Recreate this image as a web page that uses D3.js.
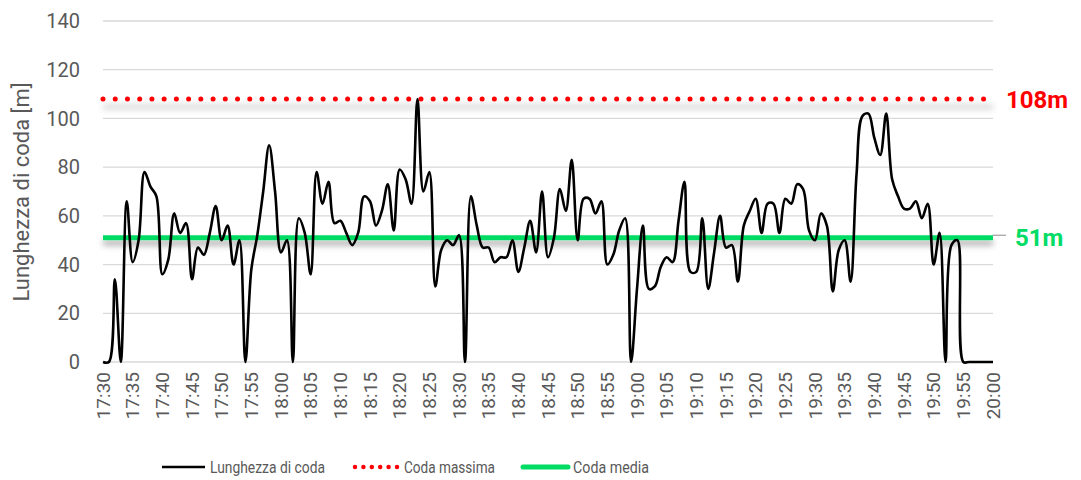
<!DOCTYPE html>
<html><head><meta charset="utf-8">
<script src="https://cdn.jsdelivr.net/npm/d3@7"></script>
<style>
html,body{margin:0;padding:0;background:#fff;}
svg{display:block;font-family:Roboto,"Liberation Sans",sans-serif;}
</style></head>
<body><svg id="chart" width="1081" height="480"></svg>
<script>
// ---- data ----
const startTime = "17:30";
const queueLength = [
 0,0,34,0,66,41,50,78,72,68,
 36,42,61,53,57,34,47,44,53,64,
 50,56,40,50,0,38,52,70,89,70,
 45,50,0,59,53,36,78,65,74,57,
 58,53,48,53,68,66,56,62,73,54,
 79,75,65,108,70,78,31,46,50,48,
 52,0,68,56,47,47,41,43,43,50,
 37,47,58,45,70,43,51,71,62,83,
 50,67,67,61,66,40,44,54,59,0,
 30,56,30,31,39,43,41,58,74,37,
 37,59,30,45,60,47,48,33,56,62,
 67,53,65,65,53,67,65,73,71,54,
 50,61,56,29,46,50,33,77,101,102,
 92,85,102,75,68,63,63,66,59,65,
 40,53,0,48,50,0,0,0,0,0,0
];
const maxQueue = 108;
const meanQueue = 51;
const xTickLabels = ["17:30","17:35","17:40","17:45","17:50","17:55","18:00","18:05","18:10","18:15","18:20","18:25","18:30","18:35","18:40","18:45","18:50","18:55","19:00","19:05","19:10","19:15","19:20","19:25","19:30","19:35","19:40","19:45","19:50","19:55","20:00"];
const yTickValues = [0,20,40,60,80,100,120,140];
const seriesNames = ["Lunghezza di coda","Coda massima","Coda media"];
const yTitle = "Lunghezza di coda [m]";

// ---- chart ----
const svg = d3.select("#chart");
const parse = d3.timeParse("%H:%M");
const t0 = parse(startTime);
const times = queueLength.map((v,i)=>d3.timeMinute.offset(t0,i));
const tickDates = xTickLabels.map(parse);

const L=103, R=993, T=21, B=362;
const x = d3.scaleTime().domain([tickDates[0], tickDates[tickDates.length-1]]).range([L,R]);
const y = d3.scaleLinear().domain([0,140]).range([B,T]);
const textCol = "#595959";

const defs = svg.append("defs");
const f = defs.append("filter").attr("id","shadow").attr("filterUnits","userSpaceOnUse")
  .attr("x",0).attr("y",0).attr("width",1081).attr("height",480);
f.append("feDropShadow").attr("dx",0).attr("dy",5).attr("stdDeviation",3.2).attr("flood-color","#000").attr("flood-opacity",0.35);
const f2 = defs.append("filter").attr("id","blur").attr("filterUnits","userSpaceOnUse")
  .attr("x",0).attr("y",0).attr("width",1081).attr("height",480);
f2.append("feGaussianBlur").attr("stdDeviation",3);

// gridlines
svg.append("g").selectAll("line").data(yTickValues).join("line")
  .attr("x1",L).attr("x2",R).attr("y1",d=>y(d)).attr("y2",d=>y(d))
  .attr("stroke","#d9d9d9").attr("stroke-width",1.3);

// y tick labels
svg.append("g").selectAll("text").data(yTickValues).join("text")
  .attr("x",80).attr("y",d=>y(d)).attr("dy","0.36em").attr("text-anchor","end")
  .attr("font-size",20).attr("fill",textCol).text(d=>d);

// y title
svg.append("text").attr("transform","translate(29,192) rotate(-90)")
  .attr("text-anchor","middle").attr("font-size",22).attr("fill",textCol).text(yTitle);

// x tick labels
svg.append("g").selectAll("text").data(xTickLabels).join("text")
  .attr("transform",(d,i)=>`translate(${x(tickDates[i])},372) rotate(-90)`)
  .attr("text-anchor","end").attr("dy","0.35em")
  .attr("font-size",19).attr("fill",textCol).text(d=>d);

// max line (soft continuous shadow + dots)
svg.append("line").attr("x1",L).attr("x2",R).attr("y1",y(maxQueue)+8).attr("y2",y(maxQueue)+8)
  .attr("stroke","#000").attr("stroke-opacity",0.16).attr("stroke-width",5).attr("filter","url(#blur)");
svg.append("line").attr("x1",L).attr("x2",R).attr("y1",y(maxQueue)).attr("y2",y(maxQueue))
  .attr("stroke","#ff0000").attr("stroke-width",5).attr("stroke-linecap","round")
  .attr("stroke-dasharray","0,12.23");

// mean line
svg.append("line").attr("x1",L).attr("x2",R).attr("y1",y(meanQueue)).attr("y2",y(meanQueue))
  .attr("stroke","#00dc64").attr("stroke-width",5).attr("filter","url(#shadow)");

// queue line (on top)
const line = d3.line().x((d,i)=>x(times[i])).y(d=>y(d)).curve(d3.curveCatmullRom.alpha(0.5));
svg.append("path").datum(queueLength).attr("d",line)
  .attr("fill","none").attr("stroke","#000").attr("stroke-width",2.6).attr("stroke-linejoin","round");

// labels
svg.append("text").attr("x",1006).attr("y",y(maxQueue)).attr("dy","0.36em")
  .attr("font-size",24).attr("font-weight","bold").attr("fill","#ff0000").text(maxQueue+"m");
svg.append("line").attr("x1",R).attr("x2",1006).attr("y1",y(meanQueue)-2.5).attr("y2",y(meanQueue)-2.5)
  .attr("stroke","#a6a6a6").attr("stroke-width",1.3);
svg.append("text").attr("x",1015).attr("y",y(meanQueue)).attr("dy","0.36em")
  .attr("font-size",24).attr("font-weight","bold").attr("fill","#00dc64").text(meanQueue+"m");

// legend
const lg = svg.append("g");
const ly = 467;
lg.append("line").attr("x1",162).attr("x2",205).attr("y1",ly).attr("y2",ly).attr("stroke","#000").attr("stroke-width",2.6);
lg.append("text").attr("x",210).attr("y",ly).attr("dy","0.36em").attr("font-size",17).attr("fill",textCol)
  .attr("textLength",115).attr("lengthAdjust","spacingAndGlyphs").text(seriesNames[0]);
lg.append("line").attr("x1",355).attr("x2",397).attr("y1",ly).attr("y2",ly).attr("stroke","#ff0000").attr("stroke-width",4.5)
  .attr("stroke-linecap","round").attr("stroke-dasharray","0,8.4");
lg.append("text").attr("x",404).attr("y",ly).attr("dy","0.36em").attr("font-size",17).attr("fill",textCol)
  .attr("textLength",91).attr("lengthAdjust","spacingAndGlyphs").text(seriesNames[1]);
lg.append("line").attr("x1",523).attr("x2",568).attr("y1",ly).attr("y2",ly).attr("stroke","#00dc64").attr("stroke-width",5).attr("stroke-linecap","round");
lg.append("text").attr("x",573).attr("y",ly).attr("dy","0.36em").attr("font-size",17).attr("fill",textCol)
  .attr("textLength",76).attr("lengthAdjust","spacingAndGlyphs").text(seriesNames[2]);
</script></body></html>
